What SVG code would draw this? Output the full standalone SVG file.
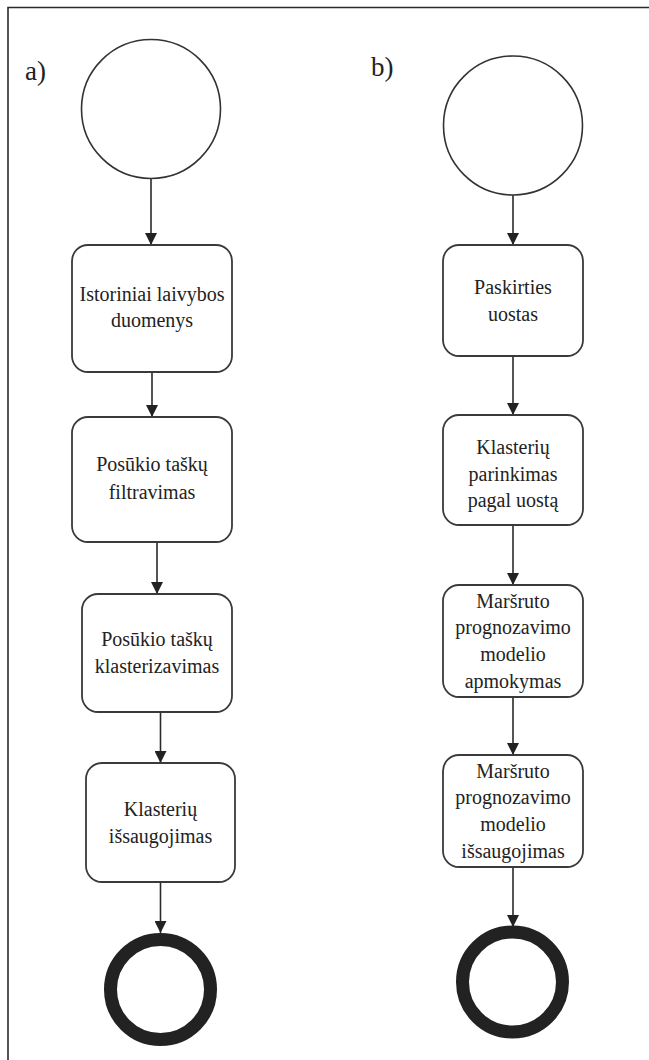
<svg xmlns="http://www.w3.org/2000/svg" width="649" height="1060" viewBox="0 0 649 1060" font-family="Liberation Serif, DejaVu Serif, Times New Roman, serif">
<defs>
<style>
.bg{fill:#ffffff}
.frame{fill:none;stroke:#2a2a2a;stroke-width:1.6}
.start{fill:#ffffff;stroke:#333333;stroke-width:1.6}
.end{fill:#ffffff;stroke:#222222;stroke-width:13}
.box{fill:#ffffff;stroke:#3a3a3a;stroke-width:1.8}
.t{font-size:20px;fill:#222222;text-anchor:middle}
.lbl{font-size:27px;fill:#222222}
.edge{fill:none;stroke:#2a2a2a;stroke-width:1.6;marker-end:url(#arr)}
</style>
<marker id="arr" viewBox="0 0 12 12" refX="12" refY="6" markerWidth="12" markerHeight="12" markerUnits="userSpaceOnUse" orient="auto">
<path d="M0,0 L12,6 L0,12 Z" fill="#222222"/>
</marker>
</defs>
<rect class="bg" x="0" y="0" width="649" height="1060"/>
<path class="frame" d="M8,1060 V7.5 H649"/>
<text class="lbl" x="25" y="80" font-family="Liberation Serif, DejaVu Serif, serif">a)</text>
<text class="lbl" x="371" y="76" font-family="Liberation Serif, DejaVu Serif, serif">b)</text>

<g id="connectors">
<path class="edge" d="M151,178.5 V245"/>
<path class="edge" d="M152,372 V417"/>
<path class="edge" d="M157,542 V594"/>
<path class="edge" d="M160.5,712 V763"/>
<path class="edge" d="M160.5,882 V933"/>
<path class="edge" d="M513,195 V245"/>
<path class="edge" d="M513,356 V415"/>
<path class="edge" d="M513,525 V585"/>
<path class="edge" d="M513,697 V755"/>
<path class="edge" d="M513,867 V927"/>
</g>

<g id="a-start"><circle class="start" cx="151" cy="109" r="69.5"/></g>
<g id="a-1" font-family="Liberation Serif, DejaVu Serif, serif">
<rect class="box" x="72" y="245" width="160" height="127" rx="16"/>
<text class="t" x="152" y="301">Istoriniai laivybos</text>
<text class="t" x="152" y="327">duomenys</text>
</g>
<g id="a-2" font-family="Liberation Serif, DejaVu Serif, serif">
<rect class="box" x="72" y="417" width="160" height="125" rx="16"/>
<text class="t" x="152" y="471">Posūkio taškų</text>
<text class="t" x="152" y="499">filtravimas</text>
</g>
<g id="a-3" font-family="Liberation Serif, DejaVu Serif, serif">
<rect class="box" x="82" y="594" width="150" height="118" rx="16"/>
<text class="t" x="157" y="646">Posūkio taškų</text>
<text class="t" x="157" y="673">klasterizavimas</text>
</g>
<g id="a-4" font-family="Liberation Serif, DejaVu Serif, serif">
<rect class="box" x="86" y="763" width="149" height="119" rx="16"/>
<text class="t" x="160.5" y="816">Klasterių</text>
<text class="t" x="160.5" y="843">išsaugojimas</text>
</g>
<g id="a-end"><circle class="end" cx="160.5" cy="989.5" r="50"/></g>

<g id="b-start"><circle class="start" cx="513" cy="125.5" r="69.5"/></g>
<g id="b-1" font-family="Liberation Serif, DejaVu Serif, serif">
<rect class="box" x="443" y="245" width="140" height="111" rx="16"/>
<text class="t" x="513" y="294">Paskirties</text>
<text class="t" x="513" y="321">uostas</text>
</g>
<g id="b-2" font-family="Liberation Serif, DejaVu Serif, serif">
<rect class="box" x="443" y="415" width="140" height="110" rx="16"/>
<text class="t" x="513" y="454">Klasterių</text>
<text class="t" x="513" y="481">parinkimas</text>
<text class="t" x="513" y="507">pagal uostą</text>
</g>
<g id="b-3" font-family="Liberation Serif, DejaVu Serif, serif">
<rect class="box" x="443" y="585" width="140" height="112" rx="16"/>
<text class="t" x="513" y="608">Maršruto</text>
<text class="t" x="513" y="634">prognozavimo</text>
<text class="t" x="513" y="661">modelio</text>
<text class="t" x="513" y="688">apmokymas</text>
</g>
<g id="b-4" font-family="Liberation Serif, DejaVu Serif, serif">
<rect class="box" x="443" y="755" width="140" height="112" rx="16"/>
<text class="t" x="513" y="778">Maršruto</text>
<text class="t" x="513" y="804">prognozavimo</text>
<text class="t" x="513" y="831">modelio</text>
<text class="t" x="513" y="858">išsaugojimas</text>
</g>
<g id="b-end"><circle class="end" cx="512.5" cy="982" r="50"/></g>
</svg>
